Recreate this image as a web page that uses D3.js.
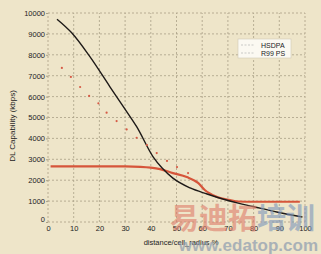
<!DOCTYPE html>
<html><head><meta charset="utf-8">
<script src="https://cdn.jsdelivr.net/npm/d3@7"></script>
<style>body{margin:0;background:#eee5c9;}svg{display:block;font-family:"Liberation Sans",Arial,sans-serif;}</style>
</head><body><svg id="c" width="321" height="254"></svg>
<script>
const xTicks = [0,10,20,30,40,50,60,70,80,90,100];
const yTicks = [0,1000,2000,3000,4000,5000,6000,7000,8000,9000,10000];
const hsdpaX = [3.5,9.3,16.3,24.1,29.3,34.5,40.9,44.4,48.6,55.3,61.9,68,74,79.8,89,99];
const hsdpaY = [9700,9040,7910,6470,5520,4560,3120,2580,2100,1630,1340,1100,900,740,480,240];
const r99X = [1,10,20,30,36,40,43.6,48.6,54,58.4,61,65.8,70.8,74,80,90,98];
const r99Y = [2660,2660,2660,2660,2640,2600,2530,2340,2150,1870,1530,1200,1050,980,970,970,970];
const dotX = [5.4,8.9,12.5,16,19.6,22.8,26.7,30.6,34.5,38.5,42.3,46.3,50.2,54.5];
const dotY = [7370,6940,6460,6030,5680,5230,4830,4430,4030,3680,3300,2920,2630,2340];
const legendLabels = ["HSDPA","R99 PS"];

const svg = d3.select("#c");
const x = d3.scaleLinear().domain([0,100]).range([48,305]);
const y = d3.scaleLinear().domain([0,10000]).range([222,13]);
const grid = "#a99f86";

svg.append("rect").attr("width",321).attr("height",254).attr("fill","#eee5c9");

// grid
svg.append("g").selectAll("line").data(xTicks).join("line")
  .attr("x1",d=>x(d)).attr("x2",d=>x(d)).attr("y1",y(0)).attr("y2",y(10000))
  .attr("stroke",grid).attr("stroke-width",0.8).attr("stroke-dasharray","2,2");
svg.append("g").selectAll("line").data(yTicks).join("line")
  .attr("y1",d=>y(d)).attr("y2",d=>y(d)).attr("x1",x(0)).attr("x2",x(100))
  .attr("stroke",grid).attr("stroke-width",0.8).attr("stroke-dasharray","2,2");

// axes
const ya = svg.append("g").attr("transform",`translate(${x(0)},0)`)
  .call(d3.axisLeft(y).tickValues(yTicks).tickSize(2).tickPadding(1).tickFormat(d3.format("d")));
const xa = svg.append("g").attr("transform",`translate(0,${y(0)})`)
  .call(d3.axisBottom(x).tickValues(xTicks).tickSize(0).tickPadding(4).tickFormat(d3.format("d")));
[ya,xa].forEach(a=>{a.select(".domain").remove();
  a.selectAll("line").attr("stroke",grid);
  a.selectAll("text").attr("font-size",7.5).attr("fill","#222").attr("font-family","Liberation Sans, Arial, sans-serif");});
ya.selectAll(".tick").filter(d=>d===0).select("text").attr("dy","-0.1em");

// titles
svg.append("text").attr("transform","translate(15,126) rotate(-90)").attr("text-anchor","middle")
  .attr("font-size",8).attr("fill","#222").text("DL Capability (kbps)");
svg.append("text").attr("x",181).attr("y",245).attr("text-anchor","middle")
  .attr("font-size",7.5).attr("fill","#222").text("distance/cell_radius %");

const line = d3.line().x(d=>x(d[0])).y(d=>y(d[1])).curve(d3.curveMonotoneX);
svg.append("path").datum(r99X.map((v,i)=>[v,r99Y[i]])).attr("d",line)
  .attr("fill","none").attr("stroke","#d6553a").attr("stroke-width",2.2);
svg.append("path").datum(hsdpaX.map((v,i)=>[v,hsdpaY[i]])).attr("d",line)
  .attr("fill","none").attr("stroke","#1e1a18").attr("stroke-width",1.4);
svg.append("g").selectAll("circle").data(dotX.map((v,i)=>[v,dotY[i]])).join("circle")
  .attr("cx",d=>x(d[0])).attr("cy",d=>y(d[1])).attr("r",1.1).attr("fill","#d65a45");

// legend
const lg = svg.append("g").attr("transform","translate(238,39)");
lg.append("rect").attr("width",53).attr("height",19).attr("fill","#fbf9f2").attr("stroke","#cfc8b6").attr("stroke-width",0.6);
legendLabels.forEach((t,i)=>{
  lg.append("line").attr("x1",3).attr("x2",17).attr("y1",6+i*8).attr("y2",6+i*8)
    .attr("stroke","#aaa").attr("stroke-width",0.6).attr("stroke-dasharray","2,1.5");
  lg.append("text").attr("x",23).attr("y",8.5+i*8).attr("font-size",7).attr("fill","#222").text(t);
});

// watermark
const wm = svg.append("g").attr("font-family","Noto Sans CJK SC, sans-serif").attr("font-weight","bold");
wm.append("text").attr("x",170).attr("y",229).attr("font-size",29).attr("fill","#de7f6c").attr("opacity",0.62).text("易迪拓");
wm.append("text").attr("x",257).attr("y",229).attr("font-size",29).attr("fill","#8098bb").attr("opacity",0.62).text("培训");
svg.append("text").attr("x",318).attr("y",251).attr("text-anchor","end").attr("font-size",17).attr("font-weight","bold")
  .attr("font-family","Liberation Sans, Arial, sans-serif").attr("fill","#8d9cb0").attr("opacity",0.7).text("www.edatop.com");
</script></body></html>
